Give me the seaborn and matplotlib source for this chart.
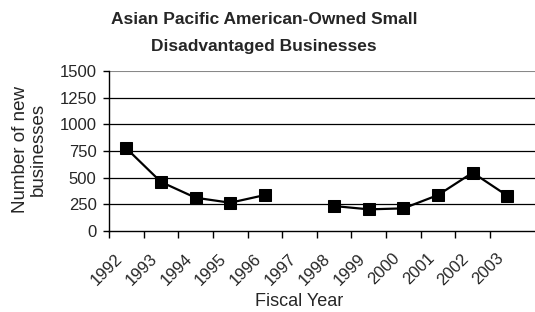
import numpy as np
import pandas as pd
import matplotlib
matplotlib.use("Agg")
import matplotlib.pyplot as plt
import matplotlib.transforms as mtransforms
import seaborn as sns

# data (1997 has no value)
years = ["1992", "1993", "1994", "1995", "1996", "1997",
         "1998", "1999", "2000", "2001", "2002", "2003"]
new_businesses = [775, 460, 312, 265, 337, np.nan,
                  234, 203, 212, 337, 547, 331]
y_ticks = [0, 250, 500, 750, 1000, 1250, 1500]

df = pd.DataFrame({"year": years, "count": new_businesses})
df["pos"] = np.arange(len(df))
# split into runs so the missing year leaves a gap in the line
df["segment"] = df["count"].isna().cumsum()
df = df.dropna(subset=["count"])

sns.set_style("white")
plt.rcParams["font.family"] = ["Liberation Sans", "DejaVu Sans"]

W, H = 535, 312
fig = plt.figure(figsize=(W / 100, H / 100), dpi=100)
ax = fig.add_axes([109 / W, 1 - 231 / H, 1 - 109 / W, 160 / H])

for y in y_ticks[1:-1]:
    ax.axhline(y, color="black", lw=0.9, zorder=0)
ax.axhline(1500, color="#888888", lw=1.5, zorder=0)

sns.lineplot(data=df, x="pos", y="count", units="segment", estimator=None,
             color="black", lw=1.6, marker="s", markersize=8.5,
             markeredgecolor="black", markerfacecolor="black", ax=ax)

ax.set_xlim(-0.5, 11.8)
ax.set_ylim(0, 1500)
ax.set_yticks(y_ticks)
ax.set_yticklabels([str(v) for v in y_ticks], fontsize=12)
ax.tick_params(axis="y", length=4, width=1, color="black", pad=5, left=True)

ax.set_xticks(np.arange(len(years)))
ax.set_xticklabels(years, rotation=45, ha="right", va="center",
                   rotation_mode="anchor", fontsize=12)
ax.tick_params(axis="x", which="major", length=0, pad=18)
shift = mtransforms.ScaledTranslation(-6 / 100, 0, fig.dpi_scale_trans)
for lab in ax.get_xticklabels():
    lab.set_transform(lab.get_transform() + shift)
ax.set_xticks(np.arange(len(years)) - 0.5, minor=True)
ax.tick_params(axis="x", which="minor", length=5, width=1, color="black",
               bottom=True)

for side in ["top", "right"]:
    ax.spines[side].set_visible(False)
for side in ["left", "bottom"]:
    ax.spines[side].set_color("black")
    ax.spines[side].set_linewidth(1.0)

ax.set_xlabel("")
ax.set_ylabel("")
fig.text(299 / W, 1 - 302 / H, "Fiscal Year", ha="center", va="center",
         fontsize=13)
fig.text(29 / W, 1 - 149 / H, "Number of new\nbusinesses", ha="center",
         va="center", rotation=90, fontsize=13.5, linespacing=1.05)

fig.text(264 / W, 1 - 20 / H, "Asian Pacific American-Owned Small",
         ha="center", va="center", fontsize=12.5, fontweight="bold")
fig.text(264 / W, 1 - 46 / H, "Disadvantaged Businesses",
         ha="center", va="center", fontsize=12.5, fontweight="bold")

fig.savefig("out.png", dpi=100)
